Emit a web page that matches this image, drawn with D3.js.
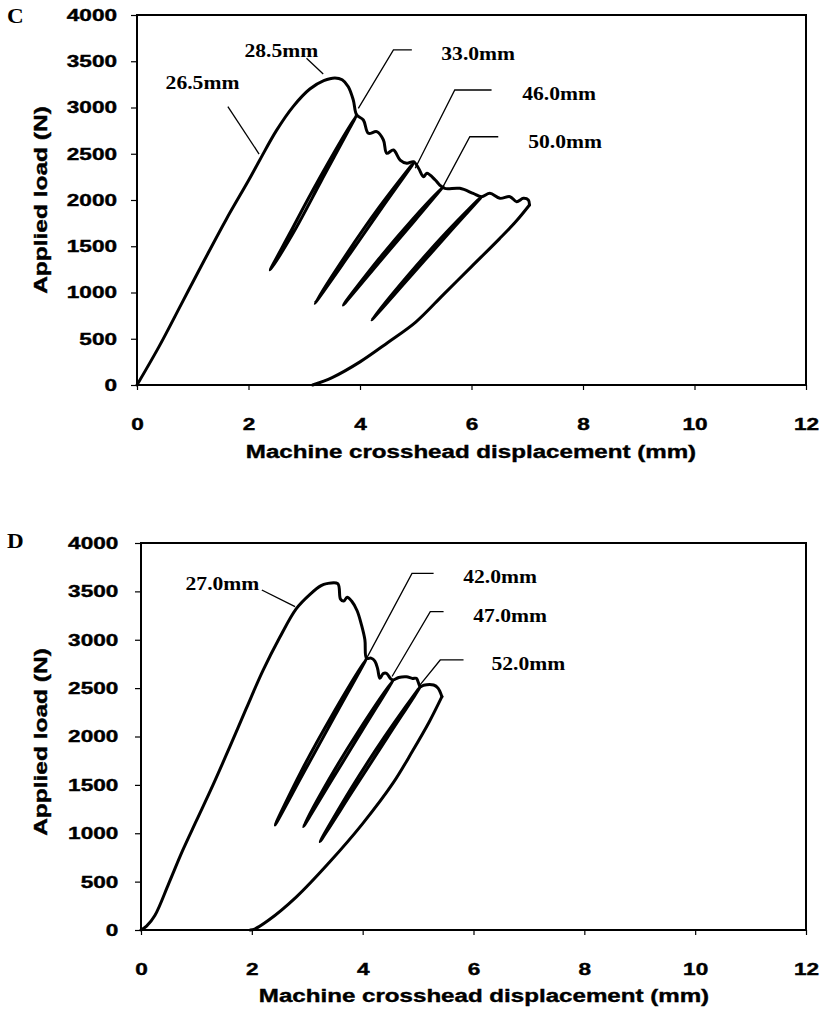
<!DOCTYPE html>
<html>
<head>
<meta charset="utf-8">
<script src="https://cdn.jsdelivr.net/npm/d3@7"></script>
<style>
  body { margin: 0; background: #fff; }
</style>
</head>
<body>
<svg id="chart" width="829" height="1011"></svg>
<script>
// ---- data ----
const xTicks = [0, 2, 4, 6, 8, 10, 12];
const yTicks = [0, 500, 1000, 1500, 2000, 2500, 3000, 3500, 4000];

// panel C: main load trace (loading, peak, crack growth)
const envelopeC = [
  [0, 0], [0.4, 420], [0.8, 880], [1.2, 1340], [1.6, 1790], [2.0, 2210], [2.2, 2430],
  [2.5, 2750], [2.8, 3010], [3.1, 3200], [3.35, 3290], [3.55, 3320], [3.68, 3300],
  [3.79, 3225], [3.88, 3080], [3.94, 2920], [4.06, 2865], [4.15, 2721], [4.30, 2739],
  [4.42, 2649], [4.48, 2505], [4.60, 2541], [4.72, 2432], [4.84, 2397], [4.96, 2414],
  [5.05, 2343], [5.14, 2252], [5.20, 2289], [5.35, 2216], [5.43, 2162], [5.52, 2126],
  [5.79, 2126], [6.03, 2072], [6.18, 2036], [6.33, 2072], [6.51, 2018], [6.69, 2036],
  [6.81, 1982], [6.93, 2018], [7.02, 2000], [7.04, 1946]
];
// panel C: final unloading
const unloadC = [
  [7.04, 1946], [6.8, 1770], [6.5, 1580], [6.0, 1280], [5.5, 980], [5.0, 680],
  [4.5, 460], [4.0, 250], [3.5, 80], [3.15, 0]
];
// panel C: unload / reload loops (down branch then up branch)
const loopC1 = [[3.94, 2920], [3.3, 2200], [2.8, 1640], [2.39, 1243], [2.74, 1640], [3.24, 2200]];
const loopC2 = [[4.96, 2400], [4.4, 1920], [3.8, 1400], [3.19, 883], [3.74, 1400], [4.34, 1920]];
const loopC3 = [[5.49, 2144], [5.0, 1790], [4.4, 1365], [3.70, 865], [4.34, 1365], [4.94, 1790]];
const loopC4 = [[6.18, 2036], [5.6, 1645], [4.9, 1170], [4.21, 703], [4.84, 1170], [5.54, 1645]];

const labelsC = ["26.5mm", "28.5mm", "33.0mm", "46.0mm", "50.0mm"];
const labelPosC = [[1.175, 3200], [2.59, 3549], [6.12, 3514], [7.57, 3081], [7.68, 2559]];
const leadersC = [
  [[1.63, 3009], [2.19, 2497]],
  [[3.04, 3532], [3.34, 3362]],
  [[4.93, 3622], [4.60, 3622], [3.97, 2991]],
  [[6.36, 3189], [5.70, 3189], [4.99, 2343]],
  [[6.48, 2684], [5.97, 2684], [5.49, 2144]]
];

// panel D
const envelopeD = [
  [0, 0], [0.1, 40], [0.25, 150], [0.5, 480], [0.75, 820], [1.0, 1130], [1.3, 1500],
  [1.6, 1890], [1.9, 2290], [2.2, 2680], [2.5, 3020], [2.8, 3320], [3.05, 3470],
  [3.25, 3560], [3.35, 3580], [3.55, 3580], [3.6, 3420], [3.66, 3400], [3.72, 3440],
  [3.8, 3400], [3.9, 3300], [3.98, 3150], [4.04, 3000], [4.07, 2808], [4.15, 2810],
  [4.22, 2780], [4.27, 2700], [4.31, 2601], [4.37, 2650], [4.43, 2653], [4.50, 2600],
  [4.55, 2584], [4.65, 2610], [4.79, 2618], [4.90, 2600], [4.97, 2601], [5.04, 2515],
  [5.10, 2530], [5.28, 2532], [5.36, 2500], [5.43, 2412]
];
const unloadD = [
  [5.43, 2412], [5.2, 2150], [4.9, 1850], [4.55, 1520], [4.0, 1100], [3.4, 700],
  [2.8, 340], [2.3, 100], [2.05, 10], [1.97, 0]
];
const loopD1 = [[4.07, 2808], [3.5, 2213], [2.95, 1640], [2.42, 1085], [2.89, 1640], [3.44, 2213]];
const loopD2 = [[4.55, 2584], [4.0, 2070], [3.45, 1555], [2.93, 1068], [3.39, 1555], [3.94, 2070]];
const loopD3 = [[5.04, 2515], [4.45, 1993], [3.85, 1462], [3.23, 913], [3.79, 1462], [4.39, 1993]];

const labelsD = ["27.0mm", "42.0mm", "47.0mm", "52.0mm"];
const labelPosD = [[1.47, 3514], [6.48, 3590], [6.66, 3187], [6.99, 2687]];
const leadersD = [
  [[2.18, 3514], [2.78, 3342]],
  [[5.28, 3686], [4.89, 3686], [4.07, 2808]],
  [[5.46, 3290], [5.22, 3290], [4.53, 2620]],
  [[5.82, 2791], [5.40, 2791], [5.01, 2515]]
];

const sans = "'Liberation Sans', Arial, Helvetica, sans-serif";
const serif = "'Liberation Serif', 'Times New Roman', serif";

const svg = d3.select("#chart");

function panel(opt) {
  const x = d3.scaleLinear().domain([0, 12]).range([opt.left, opt.right]);
  const y = d3.scaleLinear().domain([0, 4000]).range([opt.bottom, opt.top]);
  const g = svg.append("g");

  // axes
  const gy = g.append("g")
    .attr("transform", `translate(${opt.left},0)`)
    .call(d3.axisLeft(y).tickValues(yTicks).tickSize(6).tickPadding(opt.yPad).tickFormat(d3.format("d")));
  const gx = g.append("g")
    .attr("transform", `translate(0,${opt.bottom})`)
    .call(d3.axisBottom(x).tickValues(xTicks).tickSize(5).tickPadding(28).tickFormat(d3.format("d")));

  [gy, gx].forEach((a) => {
    a.select(".domain").remove();
    a.selectAll("line").attr("stroke", "#000").attr("stroke-width", 1.2);
    a.selectAll("text")
      .attr("fill", "#000")
      .style("font-family", sans)
      .style("font-weight", "bold")
      .style("font-size", "17px")
      .attr("stroke", "#000").attr("stroke-width", 0.4)
      .attr("transform", "scale(1.33,1)");
  });

  // frame
  g.append("rect")
    .attr("x", opt.left).attr("y", opt.top)
    .attr("width", opt.right - opt.left).attr("height", opt.bottom - opt.top)
    .attr("fill", "none").attr("stroke", "#000").attr("stroke-width", 2);

  const smooth = d3.line().x((d) => x(d[0])).y((d) => y(d[1])).curve(d3.curveCatmullRom);
  const closed = d3.line().x((d) => x(d[0])).y((d) => y(d[1])).curve(d3.curveCatmullRomClosed);
  const straight = d3.line().x((d) => x(d[0])).y((d) => y(d[1]));

  opt.loops.forEach((lp) => {
    g.append("path").attr("d", closed(lp))
      .attr("fill", "none").attr("stroke", "#000").attr("stroke-width", 3)
      .attr("stroke-linejoin", "round");
  });
  [opt.envelope, opt.unload].forEach((c) => {
    g.append("path").attr("d", smooth(c))
      .attr("fill", "none").attr("stroke", "#000").attr("stroke-width", 3)
      .attr("stroke-linejoin", "round").attr("stroke-linecap", "round");
  });

  // annotations
  opt.leaders.forEach((l) => {
    g.append("path").attr("d", straight(l))
      .attr("fill", "none").attr("stroke", "#000").attr("stroke-width", 1.3);
  });
  opt.labels.forEach((t, i) => {
    g.append("text")
      .attr("transform", `translate(${x(opt.labelPos[i][0])},${y(opt.labelPos[i][1])}) scale(1.2,1)`)
      .attr("text-anchor", "middle")
      .style("font-family", serif).style("font-weight", "bold").style("font-size", "18px")
      .text(t);
  });

  // titles
  g.append("text")
    .attr("transform", `translate(47,${opt.yTitle}) rotate(-90) scale(1.29,1)`)
    .attr("text-anchor", "middle")
    .attr("stroke", "#000").attr("stroke-width", 0.4)
    .style("font-family", sans).style("font-weight", "bold").style("font-size", "19px")
    .text("Applied load (N)");
  g.append("text")
    .attr("transform", `translate(${opt.xTitleX},${opt.xTitleY}) scale(1.27,1)`)
    .attr("text-anchor", "middle")
    .attr("stroke", "#000").attr("stroke-width", 0.4)
    .style("font-family", sans).style("font-weight", "bold").style("font-size", "19px")
    .text("Machine crosshead displacement (mm)");
  g.append("text")
    .attr("transform", `translate(7,${opt.letterY}) scale(1.1,1)`)
    .style("font-family", serif).style("font-weight", "bold").style("font-size", "21px")
    .text(opt.letter);
}

panel({
  left: 137, right: 806, top: 15, bottom: 385, yPad: 9,
  envelope: envelopeC, unload: unloadC, loops: [loopC1, loopC2, loopC3, loopC4],
  labels: labelsC, labelPos: labelPosC, leaders: leadersC,
  yTitle: 200, xTitleX: 471, xTitleY: 458, letter: "C", letterY: 23
});

panel({
  left: 141, right: 806, top: 543, bottom: 930, yPad: 11,
  envelope: envelopeD, unload: unloadD, loops: [loopD1, loopD2, loopD3],
  labels: labelsD, labelPos: labelPosD, leaders: leadersD,
  yTitle: 742, xTitleX: 484, xTitleY: 1002, letter: "D", letterY: 548
});
</script>
</body>
</html>
